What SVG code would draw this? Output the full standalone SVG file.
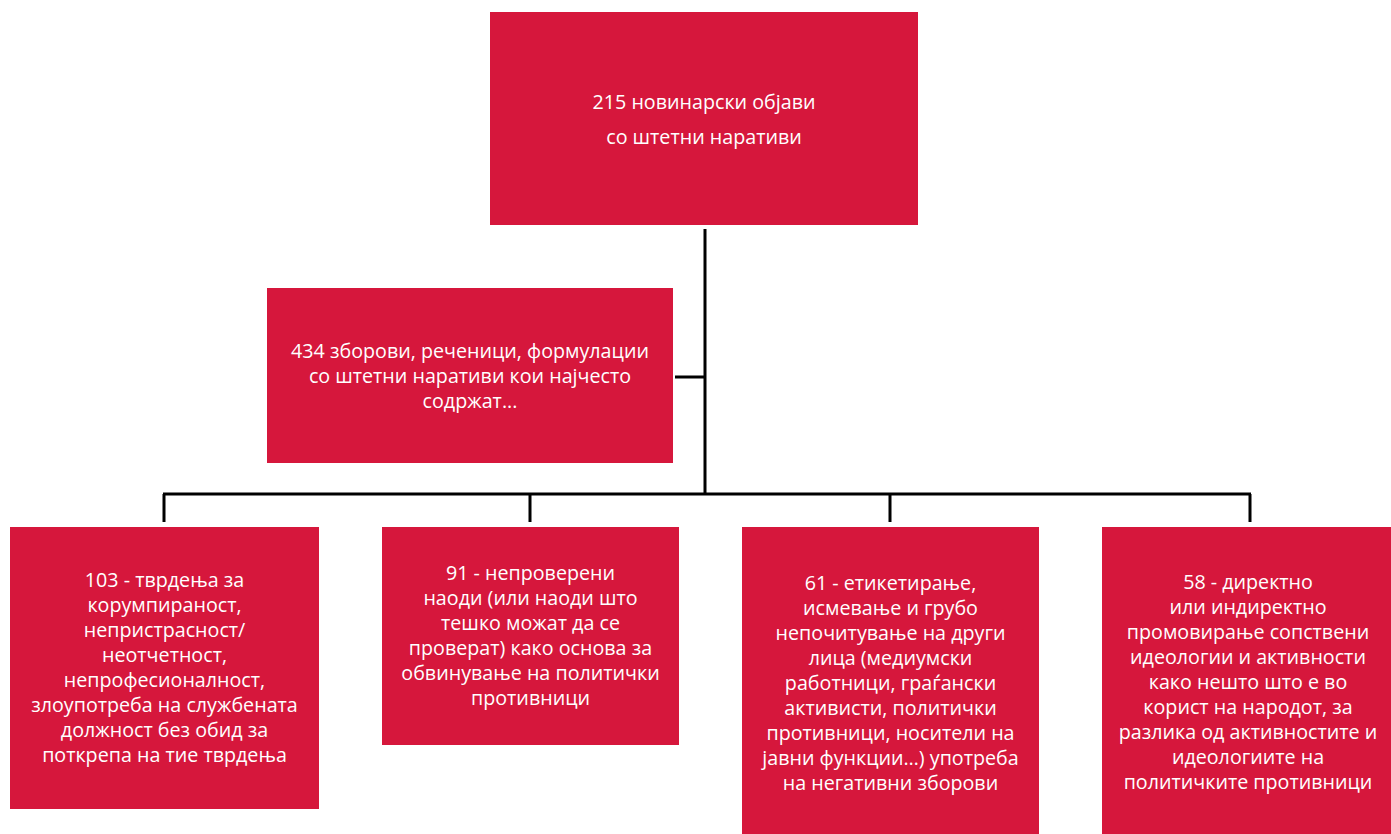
<svg xmlns="http://www.w3.org/2000/svg" width="1391" height="834" viewBox="0 0 1391 834">
<style>
.box{fill:#D6173C}
.t{font-family:"Open Sans","Liberation Sans",sans-serif;font-size:19.7px;fill:#ffffff;text-anchor:middle}
.c{stroke:#000;stroke-width:3;fill:none}
</style>
<rect width="1391" height="834" fill="#ffffff"/>
<g id="connectors">
<path class="c" d="M705 229V495M675 377H705M163 494H1251M164 494V522M530 494V522M890 494V522M1250 494V522"/>
</g>
<g id="top">
<rect class="box" x="490" y="12" width="428" height="213"/>
<text class="t" x="704" y="109">215 новинарски објави</text>
<text class="t" x="704" y="144">со штетни наративи</text>
</g>
<g id="middle">
<rect class="box" x="267" y="288" width="406" height="175"/>
<text class="t" x="470" y="358">434 зборови, реченици, формулации</text>
<text class="t" x="470" y="383">со штетни наративи кои најчесто</text>
<text class="t" x="470" y="408">содржат...</text>
</g>
<g id="n1">
<rect class="box" x="10" y="527" width="309" height="282"/>
<text class="t" x="164.5" y="587">103 - тврдења за</text>
<text class="t" x="164.5" y="612">корумпираност,</text>
<text class="t" x="164.5" y="637">непристрасност/</text>
<text class="t" x="164.5" y="662">неотчетност,</text>
<text class="t" x="164.5" y="687">непрофесионалност,</text>
<text class="t" x="164.5" y="712">злоупотреба на службената</text>
<text class="t" x="164.5" y="737">должност без обид за</text>
<text class="t" x="164.5" y="762">поткрепа на тие тврдења</text>
</g>
<g id="n2">
<rect class="box" x="382" y="527" width="297" height="218"/>
<text class="t" x="530.5" y="580">91 - непроверени</text>
<text class="t" x="530.5" y="605">наоди (или наоди што</text>
<text class="t" x="530.5" y="630">тешко можат да се</text>
<text class="t" x="530.5" y="655">проверат) како основа за</text>
<text class="t" x="530.5" y="680">обвинување на политички</text>
<text class="t" x="530.5" y="705">противници</text>
</g>
<g id="n3">
<rect class="box" x="742" y="527" width="297" height="307"/>
<text class="t" x="890.5" y="590">61 - етикетирање,</text>
<text class="t" x="890.5" y="615">исмевање и грубо</text>
<text class="t" x="890.5" y="640">непочитување на други</text>
<text class="t" x="890.5" y="665">лица (медиумски</text>
<text class="t" x="890.5" y="690">работници, граѓански</text>
<text class="t" x="890.5" y="715">активисти, политички</text>
<text class="t" x="890.5" y="740">противници, носители на</text>
<text class="t" x="890.5" y="765">јавни функции…) употреба</text>
<text class="t" x="890.5" y="790">на негативни зборови</text>
</g>
<g id="n4">
<rect class="box" x="1102" y="527" width="289" height="307"/>
<text class="t" x="1248" y="589">58 - директно</text>
<text class="t" x="1248" y="614">или индиректно</text>
<text class="t" x="1248" y="639">промовирање сопствени</text>
<text class="t" x="1248" y="664">идеологии и активности</text>
<text class="t" x="1248" y="689">како нешто што е во</text>
<text class="t" x="1248" y="714">корист на народот, за</text>
<text class="t" x="1248" y="739">разлика од активностите и</text>
<text class="t" x="1248" y="764">идеологиите на</text>
<text class="t" x="1248" y="789">политичките противници</text>
</g>
</svg>
